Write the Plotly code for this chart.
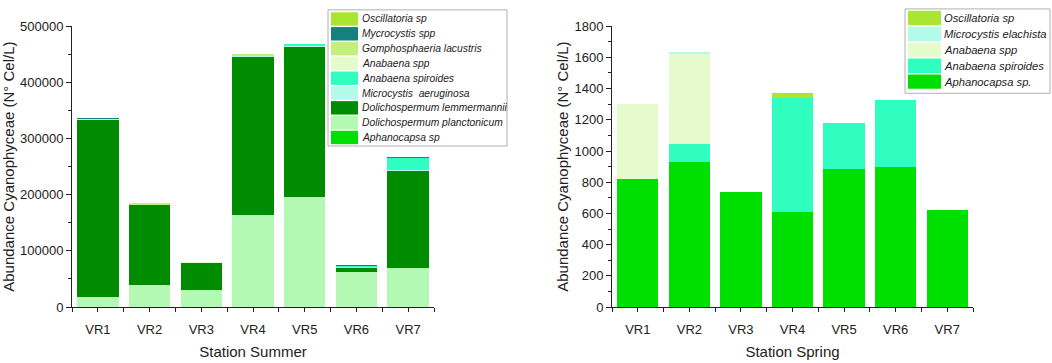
import plotly.graph_objects as go

W, H = 1052, 363

stations = ["VR1", "VR2", "VR3", "VR4", "VR5", "VR6", "VR7"]

# ---- Summer (stack order bottom -> top) ----
summer_species = [
    "Aphanocapsa sp",
    "Dolichospermum planctonicum",
    "Dolichospermum lemmermannii",
    "Microcystis  aeruginosa",
    "Anabaena spiroides",
    "Anabaena spp",
    "Gomphosphaeria lacustris",
    "Mycrocystis spp",
    "Oscillatoria sp",
]
s_aphanocapsa = [0, 0, 0, 0, 0, 0, 0]
s_dol_planct = [18000, 39000, 31000, 163000, 196000, 62000, 70000]
s_dol_lemm = [315000, 142000, 47000, 283000, 267000, 8000, 173000]
s_mic_aerug = [1500, 1500, 0, 1500, 1000, 1500, 1500]
s_ana_spir = [0, 0, 0, 0, 3500, 1500, 21000]
s_ana_spp = [0, 0, 1500, 0, 0, 0, 0]
s_gomph = [0, 2000, 1000, 3000, 0, 0, 0]
s_mycro_spp = [1500, 0, 0, 0, 1500, 1000, 1500]
s_oscill = [0, 0, 0, 500, 0, 0, 500]
summer_values = [s_aphanocapsa, s_dol_planct, s_dol_lemm, s_mic_aerug, s_ana_spir,
                 s_ana_spp, s_gomph, s_mycro_spp, s_oscill]
summer_colors = ["#00e000", "#b3f8b3", "#008c00", "#b3fbe8", "#30fdc0",
                 "#e6fbcc", "#c3f07a", "#148080", "#aae532"]

# ---- Spring (stack order bottom -> top) ----
spring_species = [
    "Aphanocapsa sp.",
    "Anabaena spiroides",
    "Anabaena spp",
    "Microcystis elachista",
    "Oscillatoria sp",
]
p_aphanocapsa = [818, 927, 740, 607, 885, 898, 624]
p_ana_spir = [0, 120, 0, 731, 295, 431, 0]
p_ana_spp = [485, 573, 0, 0, 0, 0, 0]
p_mic_elach = [0, 14, 0, 0, 0, 0, 0]
p_oscill = [0, 0, 0, 32, 0, 0, 0]
spring_values = [p_aphanocapsa, p_ana_spir, p_ana_spp, p_mic_elach, p_oscill]
spring_colors = ["#00e000", "#30fdc0", "#e6fbcc", "#b3fbe8", "#aae532"]

xpos = list(range(len(stations)))

fig = go.Figure()
for name, vals, col in zip(summer_species, summer_values, summer_colors):
    fig.add_trace(go.Bar(x=xpos, y=vals, name=name, marker=dict(color=col, line=dict(width=0)),
                         width=0.8, xaxis="x", yaxis="y", showlegend=False))
for name, vals, col in zip(spring_species, spring_values, spring_colors):
    fig.add_trace(go.Bar(x=xpos, y=vals, name=name, marker=dict(color=col, line=dict(width=0)),
                         width=0.8, xaxis="x2", yaxis="y2", showlegend=False))

def px(x):
    return x / W

def py(y):
    return 1 - y / H

FONT = "Liberation Sans, Arial, sans-serif"
tickfont = dict(family=FONT, size=13, color="#222")
titlefont = dict(family=FONT, size=15, color="#222")

ydom = [py(313), py(20)]

def xaxis_cfg(dom, title, anchor):
    return dict(domain=dom, anchor=anchor, range=[-0.5, len(stations) - 0.5],
                tickmode="array", tickvals=xpos, ticktext=stations,
                ticks="outside", ticklen=4, tickwidth=1, tickcolor="#222",
                ticklabelstandoff=6,
                minor=dict(tickmode="array", tickvals=[i + 0.5 for i in range(-1, len(stations))],
                           ticks="outside", ticklen=4, tickwidth=1, tickcolor="#222"),
                showline=True, linecolor="#222", linewidth=1, showgrid=False, zeroline=False,
                tickfont=tickfont, title=dict(text=title, font=titlefont, standoff=10),
                fixedrange=True)

def yaxis_cfg(anchor, rng, dtick, standoff):
    return dict(domain=ydom, anchor=anchor, range=rng, dtick=dtick, tick0=0, tickformat="d",
                ticks="outside", ticklen=5, tickwidth=1, tickcolor="#222",
                minor=dict(dtick=dtick / 2, ticks="outside", ticklen=3, tickwidth=1, tickcolor="#222"),
                showline=True, linecolor="#222", linewidth=1, showgrid=False, zeroline=False,
                tickfont=tickfont, fixedrange=True,
                title=dict(text="Abundance Cyanophyceae (N° Cel/L)", font=titlefont, standoff=standoff))

fig.update_layout(
    width=W, height=H,
    margin=dict(l=0, r=0, t=0, b=0),
    paper_bgcolor="white", plot_bgcolor="white",
    barmode="stack", bargap=0.2,
    xaxis=xaxis_cfg([px(72), px(434)], "Station Summer", "y"),
    yaxis=yaxis_cfg("x", [0, 500000], 100000, 4),
    xaxis2=xaxis_cfg([px(612), px(973)], "Station Spring", "y2"),
    yaxis2=yaxis_cfg("x2", [0, 1800], 200, 2),
    showlegend=False,
)

# ---- custom legends (large swatches, italic labels) ----
shapes = []
annotations = []

def add_legend(x0, y0, x1, y1, sw_x0, sw_x1, txt_x, row_top, pitch, sw_h, names, colors, fsize):
    shapes.append(dict(type="rect", xref="paper", yref="paper",
                       x0=px(x0), x1=px(x1), y0=py(y1), y1=py(y0),
                       line=dict(color="#b0b0b0", width=1), fillcolor="rgba(255,255,255,0)", layer="above"))
    for i, (n, c) in enumerate(zip(names, colors)):
        t = row_top + i * pitch
        shapes.append(dict(type="rect", xref="paper", yref="paper",
                           x0=px(sw_x0), x1=px(sw_x1), y0=py(t + sw_h), y1=py(t),
                           line=dict(width=0), fillcolor=c, layer="above"))
        annotations.append(dict(xref="paper", yref="paper", x=px(txt_x), y=py(t + sw_h / 2),
                                xanchor="left", yanchor="middle", showarrow=False, text=n,
                                borderpad=0,
                                font=dict(family=FONT, size=fsize, color="#222", style="italic")))

add_legend(328, 3, 507, 145, 331, 358, 361, 5.5, 15.45, 14,
           summer_species[::-1], summer_colors[::-1], 10.3)
add_legend(905, 2, 1050, 90, 908, 941, 943, 4, 16.6, 15,
           spring_species[::-1], spring_colors[::-1], 11.2)

fig.update_layout(shapes=shapes, annotations=annotations)

fig.write_html("out.html", config={"displayModeBar": False, "staticPlot": True},
               post_script="document.body.style.margin='0';document.body.style.overflow='hidden';")
